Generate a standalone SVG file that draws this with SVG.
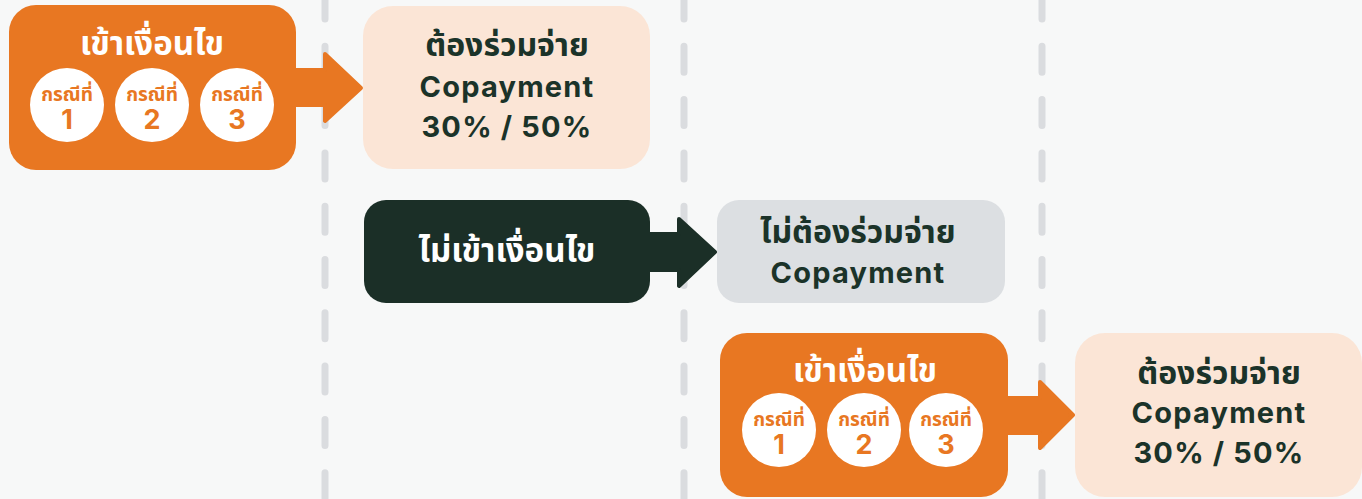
<svg xmlns="http://www.w3.org/2000/svg" width="1362" height="499" viewBox="0 0 1362 499">
<style>
.bg{fill:#f7f8f8}
.dash{stroke:#dadcdf;stroke-width:7;stroke-linecap:round;stroke-dasharray:26 27.3;fill:none}
.orange{fill:#e87722}
.peach{fill:#fbe5d6}
.dark{fill:#1b2f27}
.gray{fill:#dcdfe2}
.arrO{fill:#e87722;stroke:#e87722;stroke-width:4;stroke-linejoin:round}
.arrD{fill:#1b2f27;stroke:#1b2f27;stroke-width:4;stroke-linejoin:round}
text{font-family:"Inter","Noto Sans","Noto Sans Thai",sans-serif;font-weight:700;text-anchor:middle}
.t-white{fill:#ffffff;font-size:33px}
.t-thai{fill:#1b3329;font-size:32px}
.t-lat{fill:#1b3329;font-size:29px;letter-spacing:1.2px}
.t-case{fill:#e87722;font-size:19px}
.t-num{fill:#e87722;font-size:27px}
.circ{fill:#ffffff}
</style>
<rect class="bg" x="0" y="0" width="1362" height="499"/>
<g id="guides">
<line class="dash" x1="325" y1="-7" x2="325" y2="510"/>
<line class="dash" x1="684" y1="-7" x2="684" y2="510"/>
<line class="dash" x1="1042" y1="-7" x2="1042" y2="510"/>
</g>
<g id="connectors">
<path class="arrO" d="M290,70 L325,70 L325,54 L361,88 L325,121 L325,105 L290,105 Z"/>
<path class="arrD" d="M645,234 L679,234 L679,219 L715,252 L679,286 L679,270 L645,270 Z"/>
<path class="arrO" d="M1004,398 L1040,398 L1040,382 L1073,415 L1040,448 L1040,433 L1004,433 Z"/>
</g>
<g id="node-condition-1">
<rect class="orange" x="9" y="5" width="287" height="165" rx="27"/>
<text class="t-white" x="152" y="55">เข้าเงื่อนไข</text>
<circle class="circ" cx="67" cy="105" r="37"/>
<text class="t-case" x="67" y="101">กรณีที่</text>
<text class="t-num" x="67" y="129">1</text>
<circle class="circ" cx="152" cy="105" r="37"/>
<text class="t-case" x="152" y="101">กรณีที่</text>
<text class="t-num" x="152" y="129">2</text>
<circle class="circ" cx="237" cy="105" r="37"/>
<text class="t-case" x="237" y="101">กรณีที่</text>
<text class="t-num" x="237" y="129">3</text>
</g>
<g id="node-copay-1">
<rect class="peach" x="363" y="6" width="287" height="163" rx="30"/>
<text class="t-thai" x="507" y="56">ต้องร่วมจ่าย</text>
<text class="t-lat" x="507" y="97">Copayment</text>
<text class="t-lat" x="507" y="137">30% / 50%</text>
</g>
<g id="node-no-condition">
<rect class="dark" x="364" y="200" width="286" height="103" rx="22"/>
<text class="t-white" x="507" y="262">ไม่เข้าเงื่อนไข</text>
</g>
<g id="node-no-copay">
<rect class="gray" x="717" y="200" width="288" height="103" rx="22"/>
<text class="t-thai" x="858" y="243">ไม่ต้องร่วมจ่าย</text>
<text class="t-lat" x="858" y="283">Copayment</text>
</g>
<g id="node-condition-2">
<rect class="orange" x="720" y="333" width="288" height="164" rx="27"/>
<text class="t-white" x="865" y="382">เข้าเงื่อนไข</text>
<circle class="circ" cx="779" cy="430" r="37"/>
<text class="t-case" x="779" y="426">กรณีที่</text>
<text class="t-num" x="779" y="454">1</text>
<circle class="circ" cx="864" cy="430" r="37"/>
<text class="t-case" x="864" y="426">กรณีที่</text>
<text class="t-num" x="864" y="454">2</text>
<circle class="circ" cx="946" cy="430" r="37"/>
<text class="t-case" x="946" y="426">กรณีที่</text>
<text class="t-num" x="946" y="454">3</text>
</g>
<g id="node-copay-2">
<rect class="peach" x="1075" y="333" width="287" height="164" rx="30"/>
<text class="t-thai" x="1219" y="384">ต้องร่วมจ่าย</text>
<text class="t-lat" x="1219" y="423">Copayment</text>
<text class="t-lat" x="1219" y="463">30% / 50%</text>
</g>
</svg>
